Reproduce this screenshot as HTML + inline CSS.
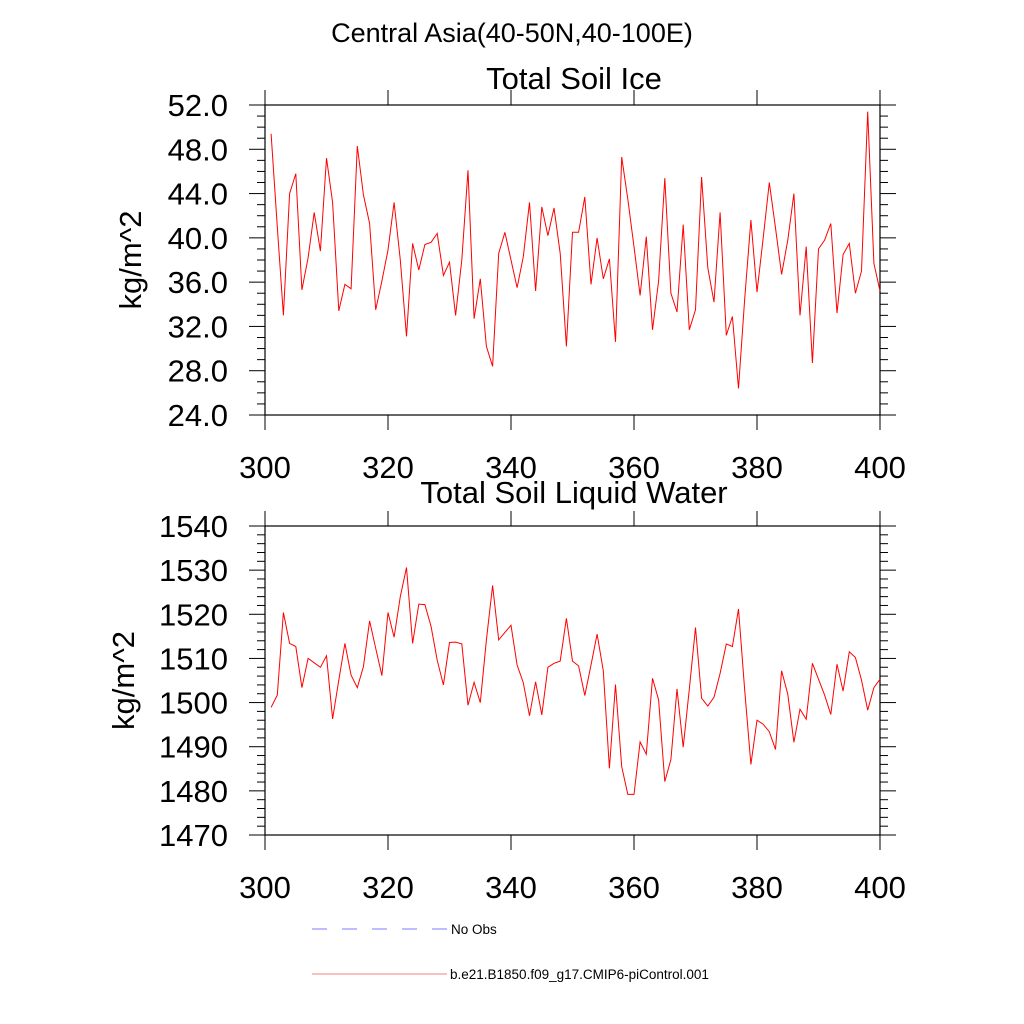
<!DOCTYPE html>
<html><head><meta charset="utf-8"><style>
html,body{margin:0;padding:0;background:#fff;}
svg{display:block;font-family:"Liberation Sans",sans-serif;}
</style></head><body>
<svg id="chart" width="1024" height="1024" viewBox="0 0 1024 1024">
<rect width="1024" height="1024" fill="#fff"/>
<text x="512" y="42" font-size="27" text-anchor="middle">Central Asia(40-50N,40-100E)</text>
<g id="g1"></g><g id="g2"></g>
<g>
<line x1="312" y1="929" x2="447" y2="929" stroke="#7b7bff" stroke-width="1" stroke-dasharray="15,15"/>
<text x="451" y="934" font-size="13.5">No Obs</text>
<line x1="312" y1="974" x2="447" y2="974" stroke="#f08080" stroke-width="1"/>
<text x="450" y="979" font-size="13.5">b.e21.B1850.f09_g17.CMIP6-piControl.001</text>
</g>
</svg>
<script>
const years = Array.from({length:100},(_, i)=>301+i);
const iceValues = [49.4,41,33.0,44.0,45.8,35.3,38.2,42.3,38.8,47.2,43.2,33.4,35.8,35.4,48.3,43.9,41.3,33.5,36.1,38.9,43.2,38.0,31.1,39.5,37.1,39.4,39.6,40.4,36.6,37.8,33.0,38.0,46.1,32.7,36.3,30.2,28.4,38.6,40.5,38.0,35.5,38.3,43.2,35.2,42.8,40.2,42.7,38.6,30.2,40.5,40.5,43.7,35.8,40.0,36.3,38.1,30.6,47.3,43.5,39.2,34.8,40.1,31.7,36.1,45.4,35.0,33.3,41.2,31.7,33.5,45.5,37.3,34.2,42.3,31.2,32.9,26.4,34.5,41.6,35.1,40.0,45.0,40.9,36.7,39.8,44.0,33.0,39.2,28.7,39.0,39.8,41.3,33.2,38.5,39.5,35.0,37.0,51.4,37.7,35.2];
const waterValues = [1498.9,1501.7,1520.4,1513.4,1512.7,1503.4,1510.0,1509.0,1508.0,1510.6,1496.3,1505.1,1513.4,1506.2,1503.4,1508.1,1518.5,1512.3,1506.1,1520.4,1514.8,1524.0,1530.6,1513.4,1522.3,1522.2,1517.2,1509.6,1504.0,1513.6,1513.7,1513.3,1499.4,1504.6,1500.0,1514.2,1526.5,1514.2,1515.9,1517.5,1508.5,1504.5,1497.0,1504.7,1497.2,1508.0,1508.9,1509.4,1519.1,1509.4,1508.3,1501.6,1508.5,1515.5,1507.2,1485.1,1504.1,1485.5,1479.2,1479.2,1491.1,1488.3,1505.5,1500.6,1482.1,1487.1,1503.1,1489.9,1503.0,1517.0,1501.0,1499.2,1501.2,1506.6,1513.3,1512.7,1521.2,1502.8,1486.0,1496.0,1495.1,1493.4,1489.4,1507.2,1501.9,1491.0,1498.5,1496.2,1508.9,1505.3,1501.7,1497.3,1508.7,1502.6,1511.5,1510.2,1505.1,1498.3,1503.4,1505.3];
const xTicks = [300,320,340,360,380,400];
const iceTicks = [24,28,32,36,40,44,48,52];
const waterTicks = [1470,1480,1490,1500,1510,1520,1530,1540];
const NS='http://www.w3.org/2000/svg';
function mk(parent,tag,attrs){const e=document.createElementNS(NS,tag);for(const k in attrs)e.setAttribute(k,attrs[k]);parent.appendChild(e);return e;}
function panel(g,top,bot,ymin,ymax,yTicks,minorStep,dec,vals,title,titleY,pre){
  const L=265,R=880;
  const xs=v=>L+(v-300)/100*(R-L);
  const ys=v=>bot-(v-ymin)/(ymax-ymin)*(bot-top);
  const fr=mk(g,'rect',{x:L,y:top,width:R-L,height:bot-top,fill:'none',stroke:'#000','stroke-width':1.2});
  
  
  for(let v=ymin;v<=ymax+1e-9;v+=minorStep){
    const major=yTicks.some(t=>Math.abs(t-v)<1e-6);const len=major?16:8;
    const t1=mk(g,'line',{x1:L-len,x2:L,y1:ys(v),y2:ys(v),stroke:'#000','stroke-width':1});
    
    
    const t2=mk(g,'line',{x1:R,x2:R+len,y1:ys(v),y2:ys(v),stroke:'#000','stroke-width':1});
    
    
  }
  yTicks.forEach(t=>{const e=mk(g,'text',{x:228,y:ys(t)+11,'font-size':31,'text-anchor':'end'});e.textContent=t.toFixed(dec);
    
    });
  xTicks.forEach(t=>{
    const a=mk(g,'line',{x1:xs(t),x2:xs(t),y1:bot,y2:bot+15,stroke:'#000'});
    
    
    const b=mk(g,'line',{x1:xs(t),x2:xs(t),y1:top-15,y2:top,stroke:'#000'});
    
    
    const e=mk(g,'text',{x:xs(t),y:bot+63,'font-size':31,'text-anchor':'middle'});e.textContent=t;
    
    
  });
  const yt=mk(g,'text',{x:0,y:0,'font-size':31,'text-anchor':'middle',transform:`translate(${pre==='ice'?141:134},${(top+bot)/2}) rotate(-90)`});
  yt.textContent='kg/m^2';
  
  
  const tt=mk(g,'text',{x:574,y:titleY,'font-size':31,'text-anchor':'middle'});tt.textContent=title;
  
  
  const d=vals.map((v,i)=>(i?'L':'M')+xs(years[i]).toFixed(1)+','+ys(v).toFixed(1)).join('');
  const p=mk(g,'path',{d:d,fill:'none',stroke:'#ff0000','stroke-width':1});
  
  
}
panel(document.getElementById('g1'),105,415,24,52,iceTicks,1,1,iceValues,'Total Soil Ice',89,'ice');
panel(document.getElementById('g2'),526,835,1470,1540,waterTicks,2,0,waterValues,'Total Soil Liquid Water',503,'water');
</script>
</body></html>
